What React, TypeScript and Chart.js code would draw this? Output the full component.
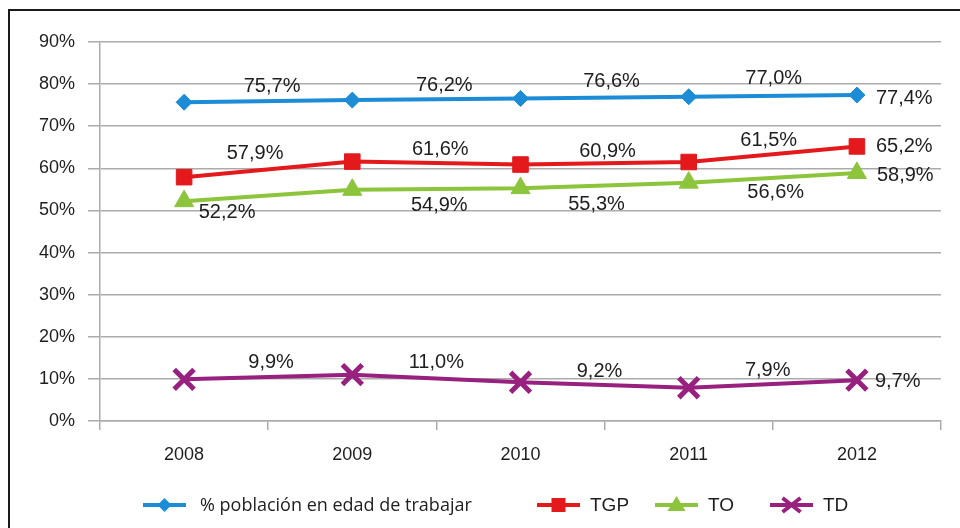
import React, { useEffect, useRef } from 'react';
import { Chart, registerables } from 'chart.js';

Chart.register(...registerables);

// ---- data ----
const years = ['2008', '2009', '2010', '2011', '2012'];
const poblacion = [75.7, 76.2, 76.6, 77.0, 77.4];
const tgp = [57.9, 61.6, 60.9, 61.5, 65.2];
const to = [52.2, 54.9, 55.3, 56.6, 58.9];
const td = [9.9, 11.0, 9.2, 7.9, 9.7];
const seriesNames = ['% población en edad de trabajar', 'TGP', 'TO', 'TD'];

// ---- styles ----
const COLORS = ['#1c8cd6', '#e3191c', '#8cc43c', '#98207f'];
const TEXT = '#1e1e1e';
const GRID = '#ababab';
// label offsets relative to each point (pixels): [dx, dy]; last one is left-aligned to the right
const labelOffsets = [
  [[88, -16], [92, -15], [91, -17], [85, -18], [19, 3]],
  [[71, -24], [88, -12], [87, -13], [80, -22], [19, 0]],
  [[43, 11], [87, 16], [76, 16], [87, 10], [20, 3]],
  [[87, -17], [84, -12], [79, -11], [79, -17], [18, 1]],
];
const legendX = [143, 537, 655, 770];
const legendFonts = ['18px "Open Sans"', '19px "Liberation Sans"', '19px "Liberation Sans"', '19px "Liberation Sans"'];

const fmt = (v: number) => v.toFixed(1).replace('.', ',') + '%';

function drawMarker(ctx: CanvasRenderingContext2D, i: number, x: number, y: number) {
  ctx.save();
  ctx.fillStyle = COLORS[i];
  ctx.strokeStyle = COLORS[i];
  ctx.beginPath();
  if (i === 0) {
    ctx.moveTo(x, y - 7); ctx.lineTo(x + 7, y); ctx.lineTo(x, y + 7); ctx.lineTo(x - 7, y); ctx.closePath(); ctx.fill();
  } else if (i === 1) {
    ctx.rect(x - 7, y - 7, 14, 14); ctx.fill();
  } else if (i === 2) {
    ctx.moveTo(x, y - 9); ctx.lineTo(x + 9, y + 6); ctx.lineTo(x - 9, y + 6); ctx.closePath(); ctx.fill();
  } else {
    ctx.lineWidth = 4;
    ctx.moveTo(x - 9, y - 7); ctx.lineTo(x + 9, y + 7);
    ctx.moveTo(x + 9, y - 7); ctx.lineTo(x - 9, y + 7);
    ctx.stroke();
  }
  ctx.restore();
}

const decorPlugin = {
  id: 'decor',
  beforeDraw(chart: any) {
    const ctx = chart.ctx;
    ctx.save();
    ctx.fillStyle = '#ffffff';
    ctx.fillRect(0, 0, chart.width, chart.height);
    ctx.strokeStyle = '#1a1a1a';
    ctx.lineWidth = 2;
    ctx.beginPath();
    ctx.moveTo(9, 528);
    ctx.lineTo(9, 10);
    ctx.lineTo(960, 10);
    ctx.stroke();
    ctx.restore();
  },
  afterDatasetsDraw(chart: any) {
    const ctx = chart.ctx;
    ctx.save();
    ctx.fillStyle = TEXT;
    ctx.font = '20px "Liberation Sans", Arial, sans-serif';
    ctx.textBaseline = 'middle';
    chart.data.datasets.forEach((ds: any, di: number) => {
      const meta = chart.getDatasetMeta(di);
      meta.data.forEach((pt: any, pi: number) => {
        const [dx, dy] = labelOffsets[di][pi];
        const last = pi === meta.data.length - 1;
        ctx.textAlign = last ? 'left' : 'center';
        ctx.fillText(fmt(ds.data[pi]), pt.x + dx, pt.y + dy);
      });
    });
    ctx.restore();
  },
  afterDraw(chart: any) {
    const ctx = chart.ctx;
    const y = 505;
    ctx.save();
    seriesNames.forEach((name, i) => {
      const x0 = legendX[i];
      ctx.strokeStyle = COLORS[i];
      ctx.lineWidth = 4;
      ctx.beginPath();
      ctx.moveTo(x0, y);
      ctx.lineTo(x0 + 43, y);
      ctx.stroke();
      drawMarker(ctx, i, x0 + 21.5, y);
      ctx.fillStyle = TEXT;
      ctx.font = legendFonts[i];
      ctx.textAlign = 'left';
      ctx.textBaseline = 'middle';
      ctx.fillText(name, x0 + (i === 0 ? 57 : 53), y + 1);
    });
    ctx.restore();
  },
};

export default function App() {
  const canvasRef = useRef<HTMLCanvasElement | null>(null);

  useEffect(() => {
    if (!canvasRef.current) return;
    const mk = (label: string, data: number[], i: number, style: string, radius: number, pbw: number) => ({
      label,
      data,
      borderColor: COLORS[i],
      backgroundColor: COLORS[i],
      pointBackgroundColor: COLORS[i],
      pointBorderColor: COLORS[i],
      borderWidth: 4,
      pointStyle: style,
      pointRadius: radius,
      pointBorderWidth: pbw,
      tension: 0,
      fill: false,
    });
    const chart = new Chart(canvasRef.current, {
      type: 'line',
      data: {
        labels: years,
        datasets: [
          mk(seriesNames[0], poblacion, 0, 'rectRot', 8, 1),
          mk(seriesNames[1], tgp, 1, 'rect', 11, 1),
          mk(seriesNames[2], to, 2, 'triangle', 11, 1),
          mk(seriesNames[3], td, 3, 'crossRot', 14, 5),
        ],
      },
      options: {
        animation: false,
        responsive: false,
        layout: { padding: { top: 42, right: 14, left: 0, bottom: 0 } },
        plugins: {
          legend: { display: false },
          tooltip: { enabled: false },
        },
        scales: {
          x: {
            type: 'category',
            offset: true,
            afterFit: (s: any) => { s.height = 107; },
            grid: {
              display: true,
              drawOnChartArea: false,
              drawTicks: true,
              offset: true,
              tickLength: 9,
              color: GRID,
              lineWidth: 1.5,
            },
            border: { display: true, color: GRID, width: 1.5 },
            ticks: {
              color: TEXT,
              padding: 14,
              font: { family: '"Liberation Sans", Arial, sans-serif', size: 18 },
            },
          },
          y: {
            min: 0,
            max: 90,
            afterFit: (s: any) => { s.width = 100; },
            grid: { color: GRID, lineWidth: 1.5, tickLength: 12, drawTicks: true },
            border: { display: true, color: GRID, width: 1.5 },
            ticks: {
              stepSize: 10,
              color: TEXT,
              padding: 13,
              callback: (v: any) => v + '%',
              font: { family: '"Liberation Sans", Arial, sans-serif', size: 18 },
            },
          },
        },
      },
      plugins: [decorPlugin],
    } as any);
    return () => chart.destroy();
  }, []);

  return (
    <div style={{ position: 'fixed', left: 0, top: 0, width: 960, height: 528, background: '#fff' }}>
      <canvas ref={canvasRef} width={960} height={528} style={{ width: 960, height: 528, display: 'block' }} />
    </div>
  );
}
